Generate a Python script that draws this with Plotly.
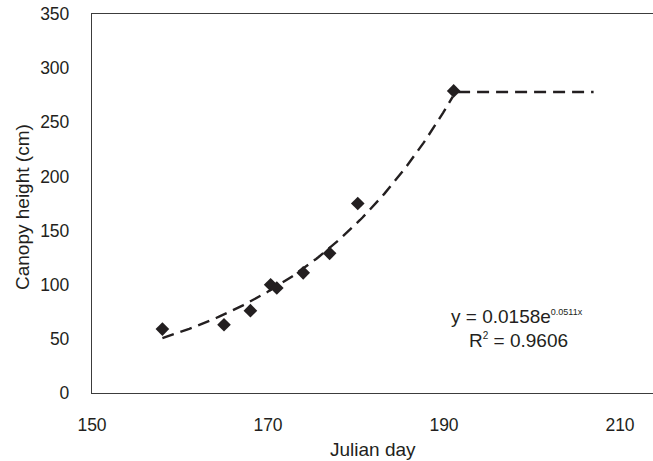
import numpy as np
import plotly.graph_objects as go

# Observed canopy heights
julian_day = [158, 165, 168, 170.3, 171, 174, 177, 180.2, 191.1]
canopy_height = [59, 63, 76, 100, 97, 111, 129, 175, 279]

# Exponential fit y = a * exp(b * x) and plateau after peak height
fit_a = 0.0158
fit_b = 0.0511
fit_r2 = 0.9606
fit_start, fit_end = 158, 191
plateau_height = 278
plateau_start, plateau_end = 191.6, 207

W, H = 653, 461
L, T, B = 92, 14, 68
x_range = [150, 213.75]
y_range = [0, 350]

fit_x = np.linspace(fit_start, fit_end, 120)
fit_y = fit_a * np.exp(fit_b * fit_x)

ink = "#231f20"
text_color = "#231f20"
font = "Liberation Sans, Arial, sans-serif"

fig = go.Figure()
fig.add_trace(go.Scatter(
    x=fit_x, y=fit_y, mode="lines",
    line=dict(color=ink, width=2.4, dash="12px,7px"),
    hoverinfo="skip", showlegend=False,
))
fig.add_trace(go.Scatter(
    x=[plateau_start, plateau_end], y=[plateau_height, plateau_height], mode="lines",
    line=dict(color=ink, width=2.4, dash="12px,7px"),
    hoverinfo="skip", showlegend=False,
))
fig.add_trace(go.Scatter(
    x=julian_day, y=canopy_height, mode="markers",
    marker=dict(symbol="diamond", size=10.5, color=ink),
    showlegend=False,
))

axis_common = dict(
    showgrid=False, zeroline=False, showline=True,
    linecolor="#3c3c3c", linewidth=1.3, ticks="",
    tickfont=dict(family=font, size=17.5, color=text_color),
)
fig.update_xaxes(range=x_range, tickvals=[150, 170, 190, 210], mirror=True,
                 ticklabelstandoff=16, **axis_common)
fig.update_yaxes(range=y_range, tickvals=list(range(0, 351, 50)),
                 ticklabelstandoff=18, **axis_common)

plot_w = W - L
plot_h = H - T - B


def px_x(px):
    return (px - L) / plot_w


def px_y(py):
    return 1 - (py - T) / plot_h


fig.add_annotation(
    text="Canopy height (cm)", textangle=-90, showarrow=False,
    xref="paper", yref="paper", x=px_x(22), y=px_y(207),
    xanchor="center", yanchor="middle",
    font=dict(family=font, size=19, color=text_color),
)
fig.add_annotation(
    text="Julian day", showarrow=False,
    xref="paper", yref="paper", x=px_x(373), y=px_y(449),
    xanchor="center", yanchor="middle",
    font=dict(family=font, size=19, color=text_color),
)
fig.add_annotation(
    text=f"y = {fit_a}e<sup><span style='font-size:9px'>{fit_b}x</span></sup>",
    showarrow=False,
    xref="paper", yref="paper", x=px_x(517), y=px_y(316),
    xanchor="center", yanchor="middle",
    font=dict(family=font, size=19, color=text_color),
)
fig.add_annotation(
    text=f"R<sup><span style='font-size:10px'>2</span></sup> = {fit_r2}",
    showarrow=False,
    xref="paper", yref="paper", x=px_x(518), y=px_y(340),
    xanchor="center", yanchor="middle",
    font=dict(family=font, size=19, color=text_color),
)

fig.update_layout(
    width=W, height=H,
    margin=dict(l=L, r=0, t=T, b=B),
    paper_bgcolor="white", plot_bgcolor="white",
)
fig.write_html("out.html")
